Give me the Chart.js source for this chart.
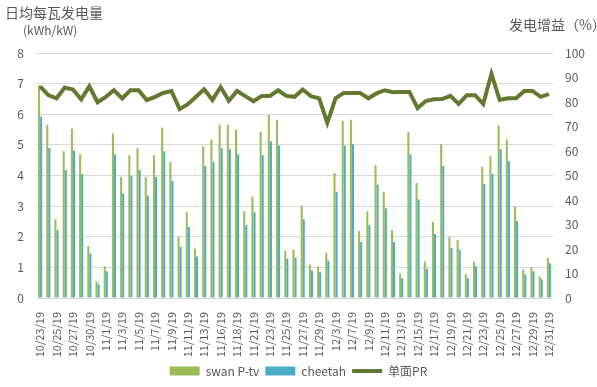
<!DOCTYPE html>
<html>
<head>
<meta charset="utf-8">
<script src="https://cdn.jsdelivr.net/npm/chart.js@4.4.1/dist/chart.umd.min.js"></script>
<style>
    html, body { margin: 0; padding: 0; background: #fff; }
    .wrap { position: relative; width: 597px; height: 387px; font-family: "Noto Sans CJK SC", "Noto Sans", sans-serif; color: #595959; }
    .lbl { position: absolute; white-space: nowrap; line-height: 1; }
    canvas { position: absolute; left: 0; top: 0; }
</style>
</head>
<body>
<div class="wrap">
    <canvas id="barChart" width="597" height="387"></canvas>
    <div class="lbl" style="left:5px; top:5px; font-size:14px;">日均每瓦发电量</div>
    <div class="lbl" style="left:23px; top:24px; font-size:12px;">(kWh/kW)</div>
    <div class="lbl" style="left:509px; top:17px; font-size:14px;">发电增益（%）</div>
</div>
<script>
const dates = [
    '10/23/19', '10/24/19', '10/25/19', '10/26/19', '10/27/19', '10/29/19', '10/30/19', '10/31/19',
    '11/1/19', '11/2/19', '11/3/19', '11/4/19', '11/5/19', '11/6/19', '11/7/19', '11/8/19',
    '11/9/19', '11/10/19', '11/11/19', '11/12/19', '11/13/19', '11/15/19', '11/16/19', '11/17/19',
    '11/18/19', '11/20/19', '11/21/19', '11/22/19', '11/23/19', '11/24/19', '11/25/19', '11/26/19',
    '11/27/19', '11/28/19', '11/29/19', '11/30/19', '12/3/19', '12/6/19', '12/7/19', '12/8/19',
    '12/9/19', '12/10/19', '12/11/19', '12/12/19', '12/13/19', '12/14/19', '12/15/19', '12/16/19',
    '12/17/19', '12/18/19', '12/19/19', '12/20/19', '12/21/19', '12/22/19', '12/23/19', '12/24/19',
    '12/25/19', '12/26/19', '12/27/19', '12/28/19', '12/29/19', '12/30/19', '12/31/19'
];

const swanValues = [
    6.95, 5.66, 2.57, 4.79, 5.53, 4.69, 1.70, 0.55, 1.03, 5.37,
    3.95, 4.66, 4.89, 3.95, 4.66, 5.56, 4.44, 1.99, 2.80, 1.61,
    4.95, 5.18, 5.66, 5.66, 5.50, 2.83, 3.31, 5.43, 5.98, 5.82,
    1.54, 1.58, 3.02, 1.09, 1.03, 1.48, 4.08, 5.79, 5.82, 2.19,
    2.83, 4.34, 3.47, 2.22, 0.80, 5.43, 3.76, 1.19, 2.48, 5.02,
    1.99, 1.90, 0.77, 1.19, 4.28, 4.63, 5.63, 5.18, 2.98, 0.93,
    1.00, 0.71, 1.32
];

const cheetahValues = [
    5.92, 4.90, 2.22, 4.18, 4.82, 4.05, 1.45, 0.45, 0.87, 4.69,
    3.41, 3.99, 4.18, 3.34, 3.95, 4.79, 3.83, 1.67, 2.32, 1.35,
    4.31, 4.44, 4.89, 4.86, 4.69, 2.38, 2.80, 4.66, 5.11, 4.98,
    1.29, 1.32, 2.57, 0.90, 0.84, 1.22, 3.47, 4.98, 5.02, 1.83,
    2.38, 3.70, 2.93, 1.83, 0.64, 4.69, 3.22, 0.96, 2.09, 4.31,
    1.64, 1.58, 0.64, 1.03, 3.73, 4.05, 4.86, 4.47, 2.51, 0.77,
    0.87, 0.61, 1.13
];

const prValues = [
    86.4, 82.8, 81.5, 85.9, 85.1, 81.1, 86.4, 79.9, 82.1, 84.8,
    81.5, 84.8, 84.8, 80.8, 82.1, 83.7, 84.5, 77.1, 79.1, 82.1,
    85.2, 80.8, 86.1, 80.5, 84.5, 82.4, 80.3, 82.5, 82.5, 84.8,
    82.5, 82.1, 85.1, 82.4, 81.5, 71.5, 81.5, 83.7, 83.7, 83.7,
    81.5, 83.5, 84.8, 84.0, 84.1, 84.1, 77.5, 80.4, 81.1, 81.2,
    82.5, 79.2, 82.8, 82.8, 79.2, 91.5, 80.8, 81.5, 81.5, 84.5,
    84.5, 82.1, 83.2
];

const leftTicks = [0, 1, 2, 3, 4, 5, 6, 7, 8];
const rightTicks = [0, 10, 20, 30, 40, 50, 60, 70, 80, 90, 100];

const fontFamily = '"Noto Sans CJK SC", "Noto Sans", sans-serif';

document.addEventListener('DOMContentLoaded', function () {
    const ctx = document.getElementById('barChart');

    new Chart(ctx, {
        type: 'bar',
        data: {
            labels: dates,
            datasets: [{
                    type: 'line',
                    label: '单面PR',
                    data: prValues,
                    yAxisID: 'y1',
                    borderColor: '#617A30',
                    backgroundColor: '#617A30',
                    borderWidth: 4,
                    pointRadius: 0,
                    tension: 0,
                    pointStyle: 'line',
                    order: 0
                }, {
                    label: 'swan P-tv',
                    data: swanValues,
                    yAxisID: 'y',
                    backgroundColor: '#9BBB59',
                    borderWidth: 0,
                    categoryPercentage: 0.5,
                    barPercentage: 1,
                    pointStyle: 'rect',
                    order: 1
                }, {
                    label: 'cheetah',
                    data: cheetahValues,
                    yAxisID: 'y',
                    backgroundColor: '#4BACC6',
                    borderWidth: 0,
                    categoryPercentage: 0.5,
                    barPercentage: 1,
                    pointStyle: 'rect',
                    order: 1
                }]
        },
        options: {
            responsive: false,
            animation: false,
            layout: {padding: {top: 53, left: 0, right: 0, bottom: 0}},
            scales: {
                x: {
                    offset: true,
                    grid: {display: false},
                    border: {display: false},
                    afterFit: (scale) => { scale.height = 61; },
                    ticks: {
                        autoSkip: false,
                        minRotation: 90,
                        maxRotation: 90,
                        padding: 6,
                        color: '#595959',
                        font: {family: fontFamily, size: 11},
                        callback: function (value, index) {
                            return index % 2 === 0 ? this.getLabelForValue(value) : '';
                        }
                    }
                },
                y: {
                    position: 'left',
                    min: 0,
                    max: 8,
                    afterFit: (scale) => { scale.width = 36; },
                    afterBuildTicks: (scale) => { scale.ticks = leftTicks.map(v => ({value: v})); },
                    grid: {color: '#D9D9D9', drawTicks: false},
                    border: {display: false},
                    ticks: {
                        padding: 12,
                        color: '#595959',
                        font: {family: fontFamily, size: 12}
                    }
                },
                y1: {
                    position: 'right',
                    min: 0,
                    max: 100,
                    afterFit: (scale) => { scale.width = 44; },
                    afterBuildTicks: (scale) => { scale.ticks = rightTicks.map(v => ({value: v})); },
                    grid: {drawOnChartArea: false, drawTicks: false},
                    border: {display: false},
                    ticks: {
                        padding: 12,
                        color: '#595959',
                        font: {family: fontFamily, size: 12}
                    }
                }
            },
            plugins: {
                legend: {
                    display: true,
                    position: 'bottom',
                    labels: {
                        usePointStyle: true,
                        pointStyleWidth: 30,
                        boxHeight: 9,
                        padding: 6,
                        color: '#595959',
                        font: {family: fontFamily, size: 12},
                        sort: (a, b) => {
                            const rank = {'swan P-tv': 0, 'cheetah': 1, '单面PR': 2};
                            return rank[a.text] - rank[b.text];
                        }
                    }
                },
                tooltip: {enabled: false}
            }
        }
    });
});
</script>
</body>
</html>
